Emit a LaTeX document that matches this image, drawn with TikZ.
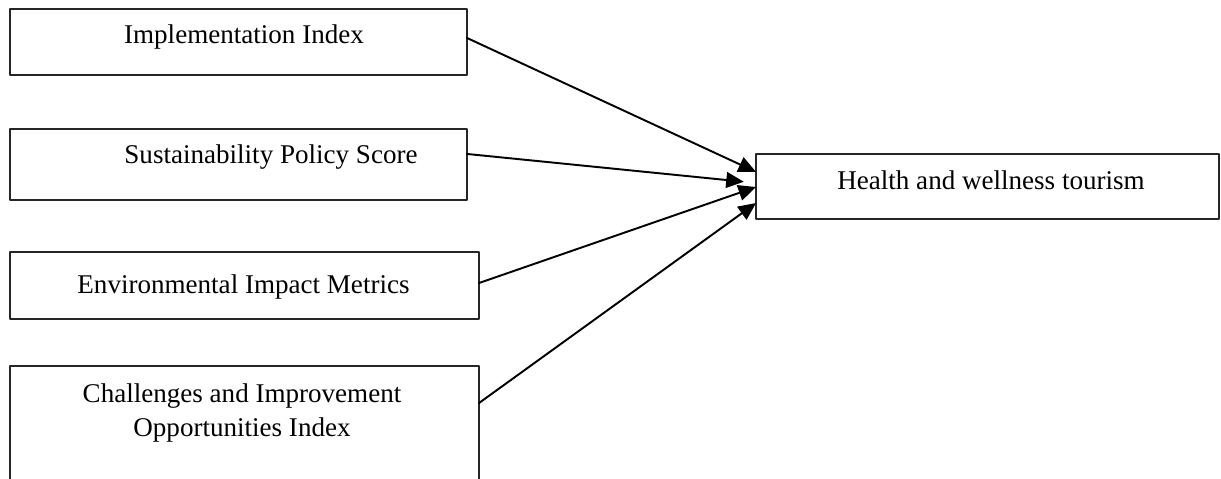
\documentclass[tikz,border=0pt]{standalone}
\usepackage{fontspec}
\setmainfont{Liberation Serif}
\usepackage{tikz}
\usetikzlibrary{arrows.meta}

\tikzset{
  box/.style={draw=black!85,line width=0.7pt,inner sep=0pt,outer sep=0pt},
  lbl/.style={anchor=base,inner sep=0pt,align=center,font=\fontsize{15.4}{19.9}\selectfont},
  link/.style={->,line width=1.1pt}
}

\begin{document}
\begin{tikzpicture}[line cap=round,line join=round,>={Triangle[length=10pt,width=9pt]},x=0.02cm,y=-0.02cm]
			\clip(0,0) rectangle (1221,479);
			% boxes
			\node[box,minimum width=9.14cm,minimum height=1.32cm] (b1) at (238.5,42) {};
			\node[box,minimum width=9.14cm,minimum height=1.42cm] (b2) at (238.5,164.5) {};
			\node[box,minimum width=9.38cm,minimum height=1.34cm] (b3) at (244.5,285.5) {};
			\node[box,minimum width=9.38cm,minimum height=2.6cm] (b4) at (244.5,431) {};
			\node[box,minimum width=9.26cm,minimum height=1.30cm] (hw) at (987.5,186.5) {};
			% texts
			\node[lbl] (t1) at (244,44) {Implementation Index};
			\node[lbl] (t2) at (271,164) {Sustainability Policy Score};
			\node[lbl] (t3) at (243.5,294) {Environmental Impact Metrics};
			\node[lbl] (t4) at (242,437) {Challenges and Improvement\\Opportunities Index};
			\node[lbl] (t5) at (991,190) {Health and wellness tourism};
			% arrows
			\draw[link] ([yshift=2.3pt]b1.east) -- ([yshift=8.3pt]hw.west);
			\draw[link,shorten >=7pt] ([yshift=6pt]b2.east) -- ([yshift=2pt]hw.west);
			\draw[link] ([yshift=1.4pt]b3.east) -- ([yshift=-0.3pt]hw.west);
			\draw[link] ([yshift=15.9pt]b4.east) -- ([yshift=-9.4pt]hw.west);
\end{tikzpicture}
\end{document}
